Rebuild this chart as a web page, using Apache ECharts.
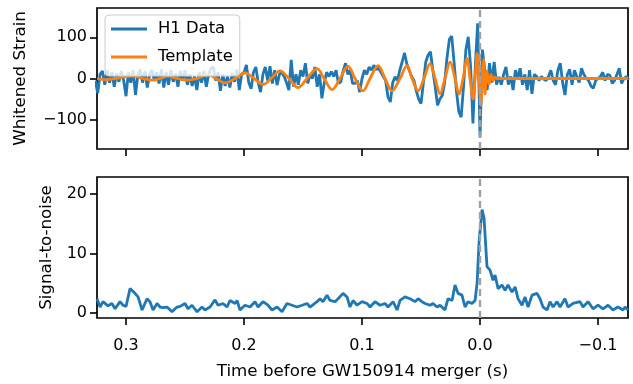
<!DOCTYPE html>
<html><head><meta charset="utf-8">
<script src="https://cdn.jsdelivr.net/npm/echarts@6/dist/echarts.min.js"></script>
<style>html,body{margin:0;padding:0;background:#fff}#c{width:633px;height:384px}</style>
</head><body><div id="c"></div>
<script>
// H1 whitened strain, sampled every 2 ms starting at 0.326 s before merger
const h1Start = 0.326, h1Step = 0.002;
const h1Values = [
 -5,-36,10,18,-15,20,-10,15,-20,12,
 -8,18,-5,-43,15,-10,20,-40,8,22,
 -10,18,-22,10,20,-5,15,-12,22,-22,
 15,-15,20,-8,12,-20,18,-5,20,-15,
 10,-18,5,-28,15,-10,18,-20,10,25,
 28,-5,15,-30,10,-18,5,-22,12,-8,
 22,-28,10,15,33,-10,-25,15,28,-10,
 -33,10,28,-5,30,-12,20,-16,10,15,
 5,-10,-28,45,-20,10,-15,20,5,37,
 -12,10,0,28,-20,10,-48,-10,15,5,
 17,5,20,-12,-8,18,37,10,20,-12,
 -12,-5,-33,0,20,10,28,20,32,22,
 25,15,5,-5,-45,-57,-10,4,-5,20,
 40,62,35,20,5,-5,-30,-50,-61,-10,
 40,57,65,20,-20,-65,-50,-41,-10,50,
 95,103,40,-30,-80,-94,-20,70,101,30,
 -109,30,134,-142,70,20,-28,37,-10,40,-15,
 4,-15,10,28,-15,5,-28,20,0,25,
 -15,10,-28,20,-37,10,5,-5,5,-2,
 -5,5,20,-5,-15,20,37,-10,-40,10,
 22,-15,20,5,-10,25,10,0,-5,-18,
 -24,-5,0,5,15,-5,10,8,-12,-5,
 10,25,-12,0,5,-3
];
// Template (orange) read at extrema and crossings
const templateTimes = [0.3246,0.317,0.3093,0.3017,0.2941,0.2856,0.2771,0.2712,0.2644,0.2568,0.2483,0.2398,0.2305,0.2237,0.2161,0.2076,0.1992,0.1915,0.1839,0.1771,0.1695,0.1619,0.1542,0.1466,0.1381,0.1322,0.1254,0.1186,0.1119,0.1059,0.0992,0.0932,0.0864,0.0805,0.0746,0.0678,0.0619,0.0576,0.0525,0.0475,0.0424,0.0381,0.0339,0.0297,0.0254,0.0212,0.0178,0.0144,0.0110,0.0085,0.0059,0.0042,0.0025,0.0008,-0.0008,-0.0017,-0.0030,-0.0042,-0.0059,-0.0076,-0.0093,-0.0110,-0.0127,-0.0144,-0.0169,-0.1254];
const templateValues = [0,-3,0,4,5.6,0,-4,0,5.6,0,-4,0,10,0,-10.7,0,13.7,0,-14.6,0,18.5,0,-22,0,24,0,-27,0,30,0,-30,0,31,0,-30,0,31,0,-30,0,36,0,-37,0,40,0,-38,0,49,0,-50,0,61,0,-65,0,47,-38,18,-14,10,-5,3,-1,0,0];
// Signal-to-noise
const snrTimes = [0.3246,0.3220,0.3195,0.3153,0.3119,0.3093,0.3051,0.3025,0.3000,0.2966,0.2924,0.2898,0.2864,0.2822,0.2797,0.2771,0.2737,0.2712,0.2686,0.2653,0.2610,0.2568,0.2542,0.2500,0.2475,0.2441,0.2398,0.2356,0.2331,0.2288,0.2246,0.2220,0.2178,0.2144,0.2119,0.2076,0.2059,0.2034,0.1992,0.1949,0.1907,0.1881,0.1839,0.1797,0.1763,0.1720,0.1678,0.1636,0.1593,0.1551,0.1508,0.1466,0.1441,0.1381,0.1356,0.1331,0.1297,0.1271,0.1229,0.1203,0.1161,0.1127,0.1102,0.1076,0.1042,0.1000,0.0958,0.0932,0.0890,0.0847,0.0805,0.0780,0.0737,0.0703,0.0678,0.0636,0.0593,0.0551,0.0525,0.0492,0.0466,0.0424,0.0398,0.0364,0.0339,0.0297,0.0271,0.0237,0.0212,0.0186,0.0153,0.0127,0.0102,0.0068,0.0042,0.0025,0.0008,-0.0017,-0.0034,-0.0059,-0.0085,-0.0110,-0.0127,-0.0153,-0.0186,-0.0212,-0.0237,-0.0271,-0.0297,-0.0322,-0.0356,-0.0381,-0.0407,-0.0441,-0.0483,-0.0508,-0.0534,-0.0568,-0.0593,-0.0619,-0.0653,-0.0678,-0.0720,-0.0746,-0.0788,-0.0847,-0.0873,-0.0915,-0.0958,-0.1000,-0.1042,-0.1085,-0.1127,-0.1169,-0.1212,-0.1229,-0.1254];
const snrValues = [2.4,1.0,1.9,1.2,1.6,0.7,1.9,1.3,1.1,4.1,3.3,2.7,0.5,2.4,1.9,0.5,1.6,1.0,0.9,1.0,0.2,1.0,1.1,1.6,0.7,1.3,0.2,1.0,0.5,1.0,2.2,1.3,1.6,1.0,2.1,1.6,2.1,0.5,1.3,1.0,1.9,1.0,1.9,1.3,0.5,1.0,0.2,1.6,1.3,1.0,1.3,1.6,1.0,1.9,2.4,1.9,3.0,2.1,1.9,2.4,3.3,2.7,1.0,2.1,1.3,1.9,1.6,1.0,1.9,1.3,1.6,1.0,1.9,0.5,2.1,2.7,2.4,1.9,2.4,1.9,1.6,1.3,1.6,1.0,1.3,0.5,2.4,2.1,4.7,3.3,3.0,1.0,1.9,1.6,2.1,5.0,12,17.4,16.0,7.8,7.2,5.5,6.4,4.1,4.7,3.8,4.7,3.5,4.4,2.4,1.3,2.7,1.0,3.0,3.3,2.4,1.0,0.5,1.9,1.0,1.9,1.0,2.4,1.0,1.6,1.9,1.0,1.9,0.7,1.3,0.7,1.3,0.5,1.0,0.5,1.0,0.5];

const xTicks = [0.3, 0.2, 0.1, 0.0, -0.1];
const strainTicks = [-100, 0, 100];
const snrTicks = [0, 10, 20];
const xRange = [-0.1254, 0.3246];
const strainRange = [-171, 171];
const snrRange = [-0.85, 22.9];

const FONT = 'DejaVu Sans';
const BLUE = '#1f77b4', ORANGE = '#ff7f0e';
const fmt = v => { if (Math.abs(v) < 1e-9) return '0.0'; return (v < 0 ? '\u2212' : '') + Math.abs(v).toFixed(1); };
const fmtInt = v => (v < 0 ? '\u2212' : '') + Math.abs(v);

const h1Data = h1Values.map((v, i) => [+(h1Start - i * h1Step).toFixed(4), v]);
const tplData = templateTimes.map((t, i) => [t, templateValues[i]]);
const snrData = snrTimes.map((t, i) => [t, snrValues[i]]);

const tickStyle = { show: true, inside: false, length: 7, lineStyle: { color: '#000', width: 1.6 } };
const labelStyle = { color: '#000', fontFamily: FONT, fontSize: 16 };
const nameStyle = { color: '#000', fontFamily: FONT, fontSize: 16.7 };

function xAxis(gi, showLabel) {
  return {
    type: 'value', gridIndex: gi, min: xRange[0], max: xRange[1], inverse: true,
    axisLine: { show: false, onZero: false }, splitLine: { show: false },
    axisTick: Object.assign({ customValues: xTicks }, tickStyle),
    axisLabel: Object.assign({ show: showLabel, customValues: xTicks, formatter: fmt, margin: 20 }, labelStyle),
    name: showLabel ? 'Time before GW150914 merger (s)' : '',
    nameLocation: 'middle', nameGap: 45,
    nameTextStyle: nameStyle
  };
}
function yAxis(gi, range, ticks, name, gap) {
  return {
    type: 'value', gridIndex: gi, min: range[0], max: range[1],
    axisLine: { show: false, onZero: false }, splitLine: { show: false },
    axisTick: Object.assign({ customValues: ticks }, tickStyle),
    axisLabel: Object.assign({ customValues: ticks, formatter: fmtInt, margin: 10 }, labelStyle),
    name: name, nameLocation: 'middle', nameGap: gap, nameRotate: 90,
    nameTextStyle: nameStyle
  };
}

const chart = echarts.init(document.getElementById('c'), null, { renderer: 'canvas' });
const vline = {
  silent: true, symbol: 'none', label: { show: false },
  lineStyle: { color: '#a0a0a0', type: [7, 4], width: 2.4 },
  data: [{ xAxis: 0 }]
};
chart.setOption({
  animation: false,
  backgroundColor: '#fff',
  grid: [
    { left: 97, right: 5, top: 8, height: 141, show: true, borderColor: '#000', borderWidth: 1.7 },
    { left: 97, right: 5, top: 177, height: 141, show: true, borderColor: '#000', borderWidth: 1.7 }
  ],
  xAxis: [xAxis(0, false), xAxis(1, true)],
  yAxis: [
    yAxis(0, strainRange, strainTicks, 'Whitened Strain', 68),
    yAxis(1, snrRange, snrTicks, 'Signal-to-noise', 42)
  ],
  legend: {
    left: 105, top: 15, orient: 'vertical', icon: 'rect',
    data: ['H1 Data', 'Template'],
    backgroundColor: 'rgba(255,255,255,0.8)', borderColor: '#cccccc', borderWidth: 1, borderRadius: 4,
    padding: [4, 7, 9, 6], itemWidth: 36, itemHeight: 3, itemGap: 8,
    textStyle: { color: '#000', fontFamily: FONT, fontSize: 16.4, padding: [0, 0, 0, 6], lineHeight: 20 }
  },
  series: [
    { name: 'H1 Data', type: 'line', xAxisIndex: 0, yAxisIndex: 0, data: h1Data, symbol: 'none',
      lineStyle: { color: BLUE, width: 2.8 }, itemStyle: { color: BLUE }, z: 2, markLine: vline },
    { name: 'Template', type: 'line', xAxisIndex: 0, yAxisIndex: 0, data: tplData, symbol: 'none', smooth: 0.35,
      lineStyle: { color: ORANGE, width: 2.8 }, itemStyle: { color: ORANGE }, z: 3 },
    { name: 'SNR', type: 'line', xAxisIndex: 1, yAxisIndex: 1, data: snrData, symbol: 'none',
      lineStyle: { color: BLUE, width: 2.8 }, itemStyle: { color: BLUE }, z: 2, markLine: vline }
  ]
});
</script>
</body></html>
